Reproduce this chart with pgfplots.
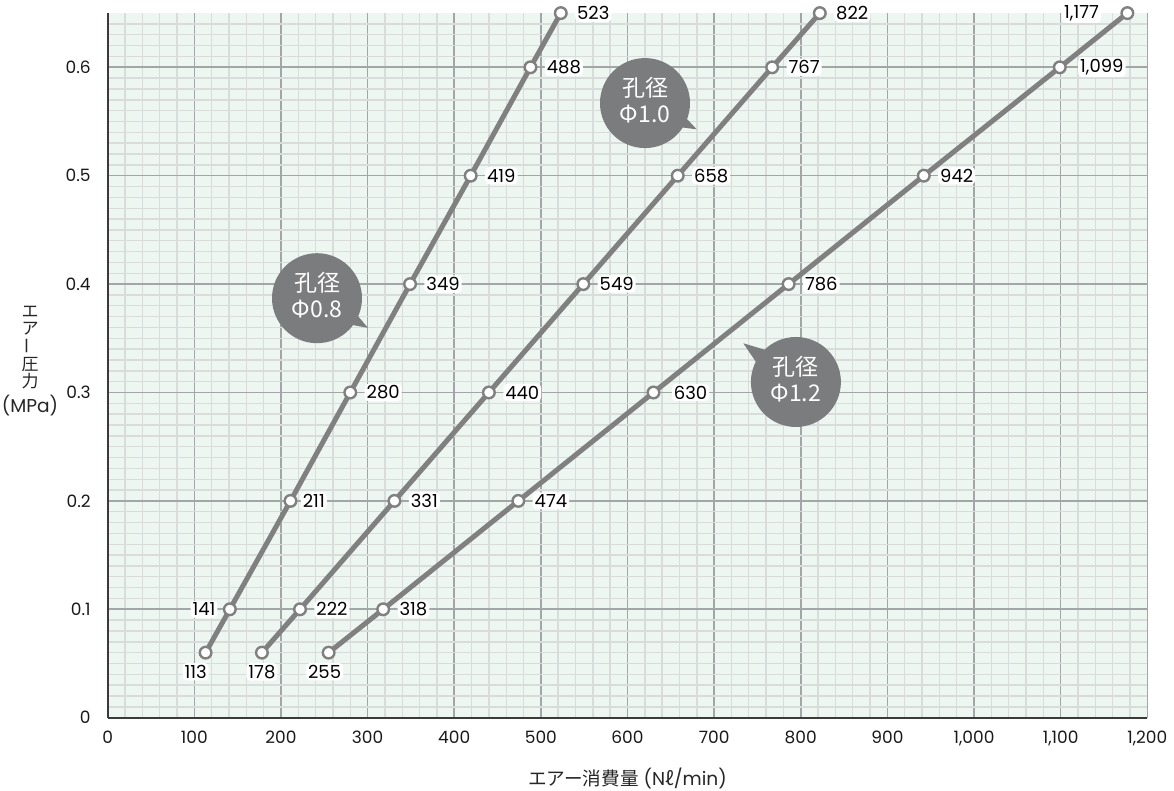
\documentclass[border=0pt]{standalone}
\usepackage{fontspec}
\setmainfont{Poppins}
\newfontfamily\cjk{Noto Sans CJK JP}
\usepackage{graphicx}
\usepackage{pgfplots}
\pgfplotsset{compat=1.18}
\usetikzlibrary{calc}

\definecolor{bg}{HTML}{EEF6F1}
\definecolor{majgrid}{HTML}{A2A6A6}
\definecolor{mingrid}{HTML}{D8DDDC}
\definecolor{linegray}{HTML}{808080}
\definecolor{bubble}{HTML}{7B7C7E}
\definecolor{axisdark}{HTML}{3A3A3A}

\pgfplotsset{
  series/.style={
    linegray, line width=2.5pt,
    mark=*, mark size=2.9pt,
    mark options={fill=white, draw=linegray, line width=1.2pt},
  },
  % anchor, xshift, yshift
  lbl/.style n args={3}{
    draw=none, mark=none, forget plot,
    nodes near coords, point meta=explicit symbolic,
    nodes near coords style={anchor=#1, xshift=#2, yshift=#3,
      fill=white, inner sep=1pt, rounded corners=2pt, text=black,
      font=\fontsize{9}{10}\selectfont},
  },
}

\newcommand{\bubble}[5]{%
  \fill[bubble] (axis cs:#1,#2) circle[radius=22.5pt];
  \fill[bubble] ($(axis cs:#1,#2)!0.55!18:(axis cs:#3,#4)$) -- (axis cs:#3,#4)
    -- ($(axis cs:#1,#2)!0.55!-18:(axis cs:#3,#4)$) -- cycle;
  \node[text=white, align=center, font=\cjk\fontsize{11.5}{12.8}\selectfont]
    at ($(axis cs:#1,#2)+(0,1.5pt)$) {孔径\\#5};
}

\begin{document}
\begin{tikzpicture}
\begin{axis}[
  scale only axis,
  width=519.8pt, height=352.3pt,
  xmin=0, xmax=1200, ymin=0, ymax=0.65,
  clip=false,
  axis lines=left,
  axis line style={-, line width=1pt, axisdark},
  axis background/.style={fill=bg},
  xtick={0,100,...,1200},
  ytick={0,0.1,0.2,0.3,0.4,0.5,0.6},
  minor x tick num=4,
  minor ytick={0.01,0.02,0.03,0.04,0.05,0.06,0.07,0.08,0.09,
    0.11,0.12,0.13,0.14,0.15,0.16,0.17,0.18,0.19,
    0.21,0.22,0.23,0.24,0.25,0.26,0.27,0.28,0.29,
    0.31,0.32,0.33,0.34,0.35,0.36,0.37,0.38,0.39,
    0.41,0.42,0.43,0.44,0.45,0.46,0.47,0.48,0.49,
    0.51,0.52,0.53,0.54,0.55,0.56,0.57,0.58,0.59,
    0.61,0.62,0.63,0.64},
  grid=both,
  major grid style={majgrid, line width=0.8pt},
  minor grid style={mingrid, line width=0.7pt},
  major tick length=0pt, minor tick length=0pt,
  /pgf/number format/assume math mode=true,
  /pgf/number format/1000 sep={,},
  ticklabel style={font=\fontsize{8.5}{10}\selectfont, text=black!90},
  xticklabel style={yshift=-3pt},
  yticklabel style={xshift=-5pt},
  xlabel={{\cjk エアー消費量} (N{\cjk ℓ}/min)},
  every axis x label/.style={at={(axis description cs:0.5,0)}, yshift=-30.2pt,
    anchor=center, font=\fontsize{9.3}{10}\selectfont, text=black!85},
  ylabel={エ\\ア\\\rotatebox{90}{ー}\\圧\\力\\[2pt]{\rmfamily\fontsize{9.3}{10}\selectfont(MPa)}},
  every axis y label/.style={at={(axis description cs:-0.0747,0.506)},
    anchor=center, align=center, font=\cjk\fontsize{8.5}{8.4}\selectfont, text=black!85},
]
% 孔径 0.8
\addplot[series] coordinates {(113,0.06) (141,0.1) (211,0.2) (280,0.3) (349,0.4) (419,0.5) (488,0.6) (523,0.65)};
% 孔径 1.0
\addplot[series] coordinates {(178,0.06) (222,0.1) (331,0.2) (440,0.3) (549,0.4) (658,0.5) (767,0.6) (822,0.65)};
% 孔径 1.2
\addplot[series] coordinates {(255,0.06) (318,0.1) (474,0.2) (630,0.3) (786,0.4) (942,0.5) (1099,0.6) (1177,0.65)};

% value labels
\addplot[lbl={west}{7pt}{0pt}] coordinates {
  (280,0.3) [280] (349,0.4) [349] (419,0.5) [419] (488,0.6) [488] (523,0.65) [523]
  (222,0.1) [222] (331,0.2) [331] (440,0.3) [440] (549,0.4) [549] (658,0.5) [658] (767,0.6) [767] (822,0.65) [822]
  (318,0.1) [318] (474,0.2) [474] (786,0.4) [786] (942,0.5) [942]};
\addplot[lbl={west}{5pt}{0pt}] coordinates {(211,0.2) [211]};
\addplot[lbl={west}{9pt}{0pt}] coordinates {(630,0.3) [630] (1099,0.6) [{1,099}]};
\addplot[lbl={east}{-6pt}{0pt}] coordinates {(141,0.1) [141]};
\addplot[lbl={east}{-13pt}{0pt}] coordinates {(1177,0.65) [{1,177}]};
\addplot[lbl={north}{-5pt}{-5pt}] coordinates {(113,0.06) [113]};
\addplot[lbl={north}{0pt}{-5pt}] coordinates {(178,0.06) [178]};
\addplot[lbl={north}{-2pt}{-5pt}] coordinates {(255,0.06) [255]};

\bubble{241.6}{0.387}{300.4}{0.3596}{Φ0.8}
\bubble{620.2}{0.567}{679.9}{0.5428}{Φ1.0}
\bubble{794.4}{0.3097}{733.7}{0.3454}{Φ1.2}
\end{axis}
\pgfresetboundingbox
\path (-53.85pt,-36.65pt) rectangle (533.15pt,358.85pt);
\end{tikzpicture}
\end{document}
